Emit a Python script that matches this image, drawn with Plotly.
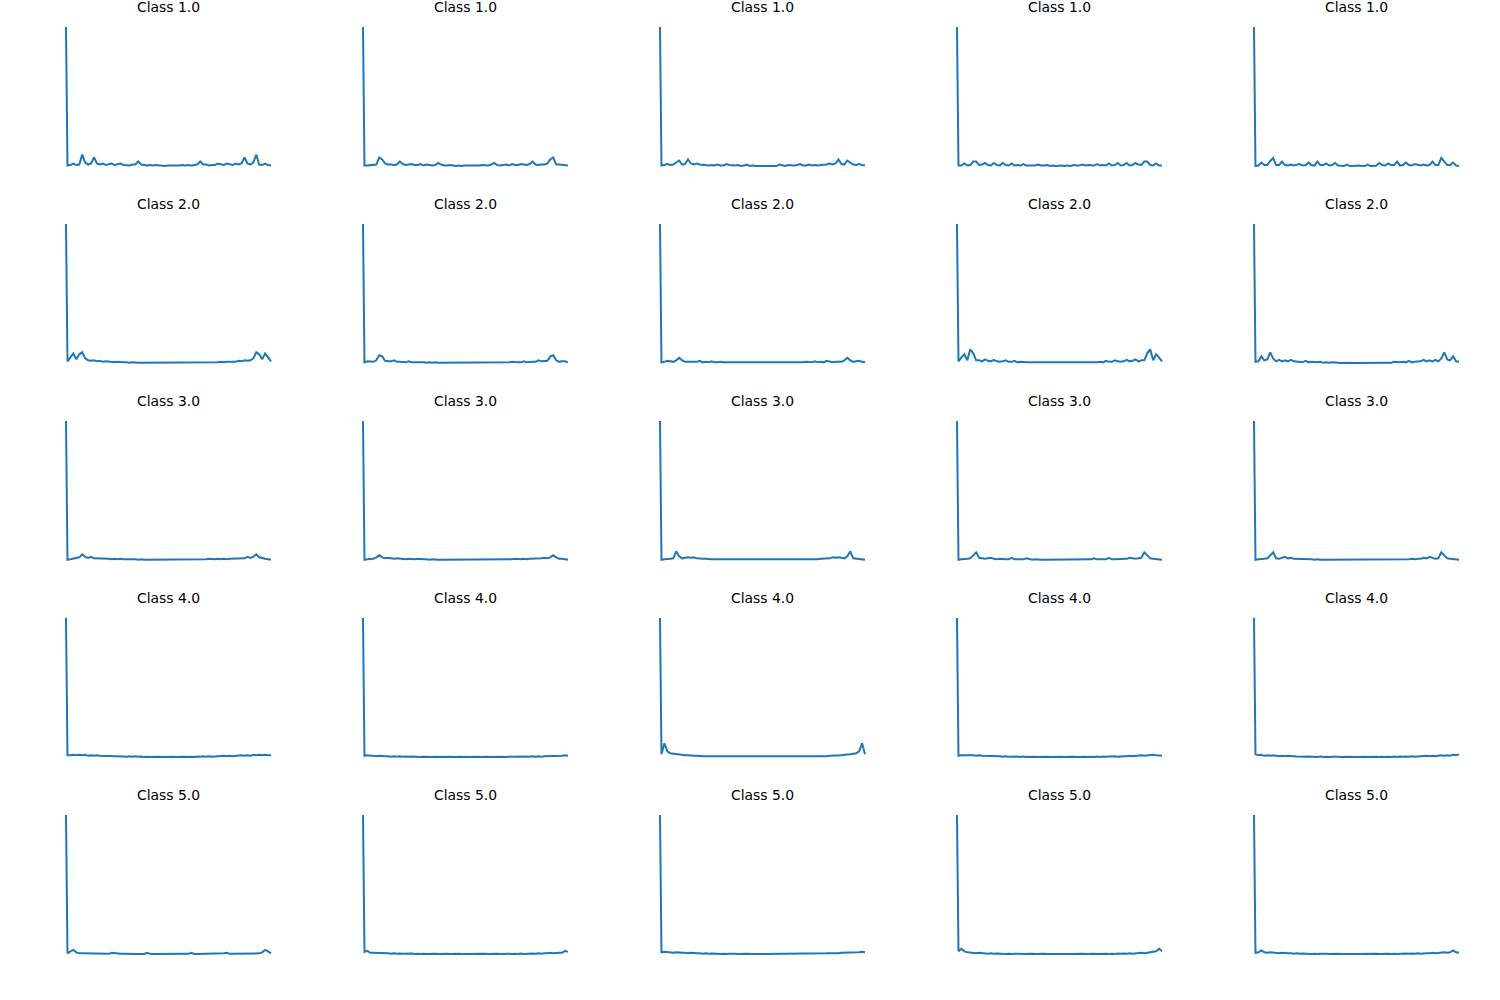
import plotly.graph_objects as go

# Frequency-bin axis (bin 0 = DC, then odd bins 1..139 of a 140-point spectrum)
FREQ_BINS = [0] + list(range(1, 140, 2))

ROW_LABELS = ["Class 1.0", "Class 2.0", "Class 3.0", "Class 4.0", "Class 5.0"]

# Spectrum magnitudes per panel (row = class, column = sample)
R1C1 = [139, 1, 1.5, 3, 1.5, 2, 12, 4, 2, 3, 9, 3, 2, 3, 1.5, 2, 3, 1.5, 2, 3, 1.5, 1.5, 1, 2, 2, 5, 2, 1.5, 1, 1.5, 1, 1.5, 1, 1, 0.5, 1,
        1, 0.5, 1, 1, 1.5, 1, 1.5, 1, 1.5, 2, 5, 2, 2, 1, 1.5, 1.5, 3, 2, 1.5, 3, 2, 1.5, 3, 2, 3, 9, 3, 2, 4, 12, 2, 1.5, 3, 1.5, 1]
R1C2 = [139, 1, 1, 1.5, 2, 2, 9, 7, 3, 2, 2, 1.5, 2, 5, 2.5, 1.5, 2, 2.5, 1.5, 1.5, 2.5, 1, 2, 1.5, 1, 1.5, 3.5, 2, 1, 1, 1.5, 1, 0.5, 1, 0.5, 1,
        1, 0.5, 1, 0.5, 1, 1.5, 1, 1, 2, 3.5, 1.5, 1, 1.5, 2, 1, 2.5, 1.5, 1.5, 2.5, 2, 1.5, 2.5, 5, 2, 1.5, 2, 2, 3, 7, 9, 2, 2, 1.5, 1, 1]
R1C3 = [139, 1, 1.5, 2.5, 1.5, 2, 4, 6, 2, 2.5, 7, 3, 2, 3, 2, 1.5, 1.5, 1, 1.5, 1, 2, 1, 1, 2.5, 1.5, 1, 1, 1.5, 0.5, 1, 2, 0.5, 1, 0.5, 0.5, 0.5,
        0.5, 0.5, 0.5, 1, 0.5, 2, 1, 0.5, 1.5, 1, 1, 1.5, 2.5, 1, 1, 2, 1, 1.5, 1, 1.5, 1.5, 2, 3, 2, 3, 7, 2.5, 2, 6, 4, 2, 1.5, 2.5, 1.5, 1]
R1C4 = [139, 1, 1, 3, 1, 1.5, 5, 5, 1.5, 2, 3.5, 1.5, 1, 3.5, 1.5, 1, 3.5, 1.5, 1, 3, 1, 1.5, 1, 2.5, 1, 1, 1.5, 1, 2, 1, 1, 1.5, 0.5, 1, 0.5, 1,
        1, 0.5, 1, 0.5, 1.5, 1, 1, 2, 1, 1.5, 1, 1, 2.5, 1, 1.5, 1, 3, 1, 1.5, 3.5, 1, 1.5, 3.5, 1, 1.5, 3.5, 2, 1.5, 5, 5, 1.5, 1, 3, 1, 1]
R1C5 = [139, 1, 1.5, 4.5, 2, 2, 6, 9, 2, 2, 5.5, 2, 1.5, 2.5, 1.5, 2, 3, 1.5, 2, 4.5, 2, 1.5, 5.5, 2, 2, 3.5, 1.5, 2, 4, 1.5, 1, 1, 2.5, 1, 1, 1.5,
        1.5, 1, 1, 2.5, 1, 1, 1.5, 4, 2, 1.5, 3.5, 2, 2, 5.5, 1.5, 2, 4.5, 2, 1.5, 3, 2, 1.5, 2.5, 1.5, 2, 5.5, 2, 2, 9, 6, 2, 2, 4.5, 1.5, 1]

R2C1 = [139, 2, 6, 10, 4, 9, 11, 5, 3, 2.5, 3, 2, 2.5, 1.5, 2, 1.5, 1.5, 1, 1.5, 1, 1, 1, 0.5, 1, 0.5, 0.5, 0.5, 0.5, 0.5, 0.3, 0.5, 0.3, 0.3, 0.3, 0.3, 0.3,
        0.3, 0.3, 0.3, 0.3, 0.3, 0.5, 0.3, 0.5, 0.5, 0.5, 0.5, 0.5, 1, 0.5, 1, 1, 1, 1.5, 1, 1.5, 1.5, 2, 1.5, 2.5, 2, 3, 2.5, 3, 5, 11, 9, 4, 10, 6, 2]
R2C2 = [139, 1, 2, 2, 1.5, 3, 8, 7, 2.5, 2, 2, 3, 1.5, 1.5, 1.5, 1, 2, 1, 1, 1, 1.5, 1, 0.5, 1, 0.5, 1, 0.5, 0.5, 0.5, 0.5, 0.3, 0.5, 0.3, 0.3, 0.3, 0.3,
        0.3, 0.3, 0.3, 0.3, 0.5, 0.3, 0.5, 0.5, 0.5, 0.5, 1, 0.5, 1, 0.5, 1, 1.5, 1, 1, 1, 2, 1, 1.5, 1.5, 1.5, 3, 2, 2, 2.5, 7, 8, 3, 1.5, 2, 2, 1]
R2C3 = [139, 1, 1.5, 2.5, 2, 1.5, 3, 5.5, 3, 1.5, 1.5, 1.5, 1, 1.5, 2.5, 1, 1.5, 1, 2, 1, 1, 1.5, 1, 1, 0.5, 1, 0.5, 0.5, 0.5, 0.5, 0.3, 0.5, 0.3, 0.5, 0.3, 0.3,
        0.3, 0.3, 0.5, 0.3, 0.5, 0.3, 0.5, 0.5, 0.5, 0.5, 1, 0.5, 1, 1, 1.5, 1, 1, 2, 1, 1.5, 1, 2.5, 1.5, 1, 1.5, 1.5, 1.5, 3, 5.5, 3, 1.5, 2, 2.5, 1.5, 1]
R2C4 = [139, 2, 6, 9, 3, 14, 10, 3, 3, 2, 4, 2.5, 2, 3.5, 2, 1.5, 2, 3, 1.5, 1.5, 2.5, 1, 1.5, 1, 1, 1, 1, 0.5, 1, 0.5, 0.5, 0.3, 0.5, 0.3, 0.3, 0.3,
        0.3, 0.3, 0.3, 0.5, 0.3, 0.5, 0.5, 1, 0.5, 1, 1, 1, 1, 1.5, 1, 2.5, 1.5, 1.5, 3, 2, 1.5, 2, 3.5, 2, 2.5, 4, 2, 3, 3, 10, 14, 3, 9, 6, 2]
R2C5 = [139, 1.5, 2, 7, 3, 4, 11, 5, 2, 3.5, 2, 3, 2, 3.5, 2, 1.5, 1.5, 1, 2.5, 1, 1.5, 1, 1, 1.5, 0.5, 1, 0.5, 1, 0.5, 0.5, 0.3, 0.5, 0.3, 0.5, 0.3, 0.3,
        0.3, 0.3, 0.5, 0.3, 0.5, 0.3, 0.5, 0.5, 1, 0.5, 1, 0.5, 1.5, 1, 1, 1.5, 1, 2.5, 1, 1.5, 1.5, 2, 3.5, 2, 3, 2, 3.5, 2, 5, 11, 4, 3, 7, 2, 1.5]

R3C1 = [139, 0.5, 1, 1.5, 2, 3, 6, 3.5, 2.5, 3.5, 2, 2, 1.5, 2, 1.5, 1.5, 1, 1.5, 1, 1.5, 1, 1, 1.5, 1, 1, 0.5, 1, 0.5, 0.5, 0.5, 0.5, 0.3, 0.5, 0.3, 0.3, 0.3,
        0.3, 0.3, 0.3, 0.5, 0.3, 0.5, 0.5, 0.5, 0.5, 1, 0.5, 1, 1, 1.5, 1, 1, 1.5, 1, 1.5, 1, 1.5, 1.5, 2, 1.5, 2, 2, 3.5, 2.5, 3.5, 6, 3, 2, 1.5, 1, 0.5]
R3C2 = [139, 0.5, 1, 1.5, 1.5, 3, 5, 3, 2, 2.5, 2, 1.5, 2, 1.5, 1.5, 1, 1.5, 1, 1, 1.5, 1, 1, 1, 0.5, 1, 0.5, 0.5, 0.5, 0.5, 0.3, 0.5, 0.3, 0.3, 0.3, 0.3, 0.3,
        0.3, 0.3, 0.3, 0.3, 0.3, 0.5, 0.3, 0.5, 0.5, 0.5, 0.5, 1, 0.5, 1, 1, 1, 1.5, 1, 1, 1.5, 1, 1.5, 1.5, 2, 1.5, 2, 2.5, 2, 3, 5, 3, 1.5, 1.5, 1, 0.5]
R3C3 = [139, 0.5, 1, 1, 1.5, 2, 9, 4, 2, 2.5, 3, 2.5, 3, 2, 1.5, 1.5, 1.5, 1, 1, 1, 1, 1, 0.5, 1, 0.5, 0.5, 0.5, 0.5, 0.3, 0.5, 0.3, 0.3, 0.3, 0.3, 0.3, 0.3,
        0.3, 0.3, 0.3, 0.3, 0.3, 0.3, 0.5, 0.3, 0.5, 0.5, 0.5, 0.5, 1, 0.5, 1, 1, 1, 1, 1, 1.5, 1.5, 1.5, 2, 3, 2.5, 3, 2.5, 2, 4, 9, 2, 1.5, 1, 1, 0.5]
R3C4 = [139, 0.5, 1, 1, 1.5, 2, 5, 8, 2.5, 2, 1.5, 2, 2.5, 1.5, 1, 1.5, 1, 1, 1, 2.5, 1, 1, 1, 1, 2, 1, 0.5, 1, 0.5, 0.5, 0.5, 0.5, 0.3, 0.5, 0.3, 0.3,
        0.3, 0.3, 0.5, 0.3, 0.5, 0.5, 0.5, 0.5, 1, 0.5, 1, 2, 1, 1, 1, 1, 2.5, 1, 1, 1, 1.5, 1, 1.5, 2.5, 2, 1.5, 2, 2.5, 8, 5, 2, 1.5, 1, 1, 0.5]
R3C5 = [139, 0.5, 1, 1, 1.5, 2, 5, 8, 2, 1.5, 2.5, 3.5, 2, 2.5, 1.5, 1.5, 1, 1.5, 1, 1, 1, 0.5, 1, 0.5, 0.5, 0.5, 0.5, 0.3, 0.5, 0.3, 0.3, 0.3, 0.3, 0.3, 0.3, 0.3,
        0.3, 0.3, 0.3, 0.3, 0.3, 0.3, 0.3, 0.5, 0.3, 0.5, 0.5, 0.5, 0.5, 1, 0.5, 1, 1, 1, 1.5, 1, 1.5, 1.5, 2.5, 2, 3.5, 2.5, 1.5, 2, 8, 5, 2, 1.5, 1, 1, 0.5]

R4C1 = [139, 2, 2, 2.5, 2, 2.5, 2, 2.5, 1.5, 2, 1.5, 2, 1.5, 1.5, 1, 1.5, 1, 1.5, 1, 1.2, 0.8, 0.5, 1, 0.5, 1, 0.5, 0.8, 0.3, 0.7, 0.3, 0.6, 0.3, 0.6, 0.3, 0.5, 0.3,
        0.3, 0.5, 0.3, 0.6, 0.3, 0.6, 0.3, 0.7, 0.3, 0.8, 0.5, 1, 0.5, 1, 0.5, 0.8, 1.2, 1, 1.5, 1, 1.5, 1, 1.5, 1.5, 2, 1.5, 2, 1.5, 2.5, 2, 2.5, 2, 2.5, 2, 2]
R4C2 = [139, 1.5, 2, 1.5, 1, 1, 1.5, 1, 1, 1, 0.5, 1, 0.5, 1, 0.5, 0.8, 0.4, 0.8, 0.4, 0.7, 0.3, 0.6, 0.3, 0.6, 0.2, 0.5, 0.2, 0.5, 0.2, 0.4, 0.2, 0.4, 0.2, 0.4, 0.2, 0.3,
        0.3, 0.2, 0.4, 0.2, 0.4, 0.2, 0.4, 0.2, 0.5, 0.2, 0.5, 0.2, 0.6, 0.3, 0.6, 0.3, 0.7, 0.4, 0.8, 0.4, 0.8, 0.5, 1, 0.5, 1, 0.5, 1, 1, 1, 1.5, 1, 1, 1.5, 2, 1.5]
R4C3 = [139, 3, 14, 6, 4, 3.5, 3, 2.5, 2.5, 2, 2, 1.5, 1.5, 1.5, 1, 1, 1, 1, 0.5, 0.5, 0.5, 0.5, 0.5, 0.3, 0.5, 0.3, 0.3, 0.3, 0.3, 0.3, 0.3, 0.3, 0.3, 0.3, 0.3, 0.3,
        0.3, 0.3, 0.3, 0.3, 0.3, 0.3, 0.3, 0.3, 0.3, 0.3, 0.3, 0.5, 0.3, 0.5, 0.5, 0.5, 0.5, 0.5, 1, 1, 1, 1, 1.5, 1.5, 1.5, 2, 2, 2.5, 2.5, 3, 3.5, 4, 6, 14, 3]
R4C4 = [139, 1.5, 2, 2, 2.5, 2, 2, 1.5, 2, 1.5, 1.5, 1, 1.5, 1, 1.2, 1, 0.6, 1.1, 0.6, 0.9, 0.5, 0.8, 0.3, 0.8, 0.3, 0.7, 0.3, 0.7, 0.3, 0.6, 0.3, 0.6, 0.3, 0.5, 0.3, 0.5,
        0.5, 0.3, 0.5, 0.3, 0.6, 0.3, 0.6, 0.3, 0.7, 0.3, 0.7, 0.3, 0.8, 0.3, 0.8, 0.5, 0.9, 0.6, 1.1, 0.6, 1, 1.2, 1, 1.5, 1, 1.5, 1.5, 2, 1.5, 2, 2, 2.5, 2, 2, 1.5]
R4C5 = [139, 3, 2, 2.5, 1.5, 2, 1.5, 2, 1.5, 1, 1.5, 1, 1.5, 1, 1.2, 0.8, 0.6, 1.1, 0.5, 0.9, 0.5, 0.8, 0.3, 0.8, 0.3, 0.7, 0.3, 0.7, 0.3, 0.6, 0.3, 0.6, 0.3, 0.5, 0.3, 0.5,
        0.5, 0.3, 0.5, 0.3, 0.6, 0.3, 0.6, 0.3, 0.7, 0.3, 0.7, 0.3, 0.8, 0.3, 0.8, 0.5, 0.9, 0.5, 1.1, 0.6, 0.8, 1.2, 1, 1.5, 1, 1.5, 1, 1.5, 2, 1.5, 2, 1.5, 2.5, 2, 3]

R5C1 = [139, 1, 3, 4.5, 2, 1, 1, 1, 0.5, 1, 0.5, 0.5, 0.5, 0.5, 0.5, 0.5, 1.5, 1, 0.5, 0.5, 0.5, 0.3, 0.5, 0.3, 0.3, 0.3, 0.3, 0.3, 1.5, 0.5, 0.3, 0.3, 0.3, 0.3, 0.3, 0.3,
        0.3, 0.3, 0.3, 0.3, 0.3, 0.3, 0.5, 1.5, 0.3, 0.3, 0.3, 0.3, 0.3, 0.5, 0.3, 0.5, 0.5, 0.5, 1, 1.5, 0.5, 0.5, 0.5, 0.5, 0.5, 0.5, 1, 0.5, 1, 1, 1, 2, 4.5, 3, 1]
R5C2 = [139, 2.5, 3.5, 1.5, 1.5, 1.5, 1, 1.5, 1, 1.2, 0.6, 1, 0.5, 0.9, 0.5, 0.8, 0.4, 0.8, 0.3, 0.7, 0.3, 0.7, 0.3, 0.6, 0.3, 0.6, 0.3, 0.6, 0.3, 0.5, 0.3, 0.5, 0.3, 0.5, 0.3, 0.4,
        0.4, 0.3, 0.5, 0.3, 0.5, 0.3, 0.5, 0.3, 0.6, 0.3, 0.6, 0.3, 0.6, 0.3, 0.7, 0.3, 0.7, 0.3, 0.8, 0.4, 0.8, 0.5, 0.9, 0.5, 1, 0.6, 1.2, 1, 1.5, 1, 1.5, 1.5, 1.5, 3.5, 2.5]
R5C3 = [139, 2, 2.5, 2, 2, 1.5, 2, 1.5, 1.5, 1.5, 1, 1.5, 1, 1.2, 1, 0.6, 1, 0.5, 0.9, 0.5, 0.8, 0.3, 0.7, 0.3, 0.7, 0.3, 0.6, 0.3, 0.6, 0.3, 0.5, 0.3, 0.5, 0.3, 0.4, 0.3,
        0.3, 0.4, 0.3, 0.5, 0.3, 0.5, 0.3, 0.6, 0.3, 0.6, 0.3, 0.7, 0.3, 0.7, 0.3, 0.8, 0.5, 0.9, 0.5, 1, 0.6, 1, 1.2, 1, 1.5, 1, 1.5, 1.5, 1.5, 2, 1.5, 2, 2, 2.5, 2]
R5C4 = [139, 3, 5.5, 3, 2, 1.5, 1.5, 1, 1.5, 1, 1, 0.5, 1, 0.5, 0.9, 0.5, 0.8, 0.3, 0.7, 0.3, 0.7, 0.3, 0.6, 0.3, 0.6, 0.3, 0.5, 0.3, 0.5, 0.3, 0.5, 0.3, 0.4, 0.3, 0.4, 0.3,
        0.3, 0.4, 0.3, 0.4, 0.3, 0.5, 0.3, 0.5, 0.3, 0.5, 0.3, 0.6, 0.3, 0.6, 0.3, 0.7, 0.3, 0.7, 0.3, 0.8, 0.5, 0.9, 0.5, 1, 0.5, 1, 1, 1.5, 1, 1.5, 1.5, 2, 3, 5.5, 3]
R5C5 = [139, 1.5, 2, 4, 2, 1.5, 2, 1.5, 1.5, 1, 1.5, 1, 1, 1, 0.5, 1, 0.5, 0.9, 0.5, 0.8, 0.4, 0.7, 0.3, 0.7, 0.3, 0.6, 0.3, 0.6, 0.3, 0.5, 0.3, 0.5, 0.3, 0.4, 0.3, 0.4,
        0.4, 0.3, 0.4, 0.3, 0.5, 0.3, 0.5, 0.3, 0.6, 0.3, 0.6, 0.3, 0.7, 0.3, 0.7, 0.4, 0.8, 0.5, 0.9, 0.5, 1, 0.5, 1, 1, 1, 1.5, 1, 1.5, 1.5, 2, 1.5, 2, 4, 2, 1.5]

GRID = [
    [R1C1, R1C2, R1C3, R1C4, R1C5],
    [R2C1, R2C2, R2C3, R2C4, R2C5],
    [R3C1, R3C2, R3C3, R3C4, R3C5],
    [R4C1, R4C2, R4C3, R4C4, R4C5],
    [R5C1, R5C2, R5C3, R5C4, R5C5],
]

W, H = 1500, 1000
AX_LEFT0, AX_W, COL_PITCH = 55.75, 225.5, 297.0
AX_TOP0, AX_H, ROW_PITCH = 20.0, 153.0, 197.0
LINE_COLOR = "#1f77b4"

fig = go.Figure()
annotations = []
xmin, xmax = FREQ_BINS[0], FREQ_BINS[-1]
xpad = 0.05 * (xmax - xmin)

for r in range(5):
    for c in range(5):
        idx = r * 5 + c + 1
        vals = GRID[r][c]
        xa = "x" if idx == 1 else f"x{idx}"
        ya = "y" if idx == 1 else f"y{idx}"
        fig.add_trace(go.Scatter(
            x=FREQ_BINS, y=vals, mode="lines",
            line=dict(color=LINE_COLOR, width=2),
            xaxis=xa, yaxis=ya, showlegend=False, hoverinfo="skip",
        ))
        left = AX_LEFT0 + COL_PITCH * c
        top = AX_TOP0 + ROW_PITCH * r
        lo, hi = min(vals), max(vals)
        ypad = 0.05 * (hi - lo)
        xkey = "xaxis" if idx == 1 else f"xaxis{idx}"
        ykey = "yaxis" if idx == 1 else f"yaxis{idx}"
        fig.layout[xkey] = dict(
            domain=[left / W, (left + AX_W) / W],
            range=[xmin - xpad, xmax + xpad],
            visible=False, anchor=ya, fixedrange=True,
        )
        fig.layout[ykey] = dict(
            domain=[1 - (top + AX_H) / H, 1 - top / H],
            range=[lo - ypad, hi + ypad],
            visible=False, anchor=xa, fixedrange=True,
        )
        annotations.append(dict(
            text=ROW_LABELS[r], xref="paper", yref="paper",
            x=(left + AX_W / 2) / W, y=1 - (top - 3.0) / H,
            xanchor="center", yanchor="bottom", showarrow=False,
            font=dict(family="DejaVu Sans", size=13.9, color="black"),
        ))

fig.update_layout(
    width=W, height=H,
    margin=dict(l=0, r=0, t=0, b=0),
    paper_bgcolor="white", plot_bgcolor="white",
    annotations=annotations,
    showlegend=False,
)

fig.write_html("out.html")
